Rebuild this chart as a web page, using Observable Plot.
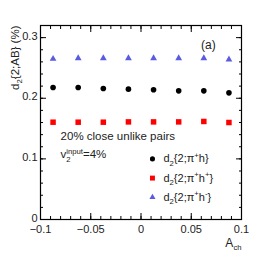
<!DOCTYPE html>
<html><head><meta charset="utf-8">
<script src="https://cdn.jsdelivr.net/npm/d3@7"></script>
<script src="https://cdn.jsdelivr.net/npm/@observablehq/plot@0.6"></script>
<style>html,body{margin:0;padding:0;background:#fff;}</style>
</head><body><div id="chart"></div>
<script>
// Data
const xVals = [-0.0875, -0.0625, -0.0375, -0.0125, 0.0125, 0.0375, 0.0625, 0.0875];
const circleVals = [0.2178, 0.2178, 0.2162, 0.215, 0.2139, 0.2122, 0.2122, 0.2089];
const squareVals = [0.1605, 0.1605, 0.1605, 0.161, 0.161, 0.161, 0.1617, 0.160];
const triangleVals = [0.265, 0.266, 0.266, 0.266, 0.266, 0.266, 0.266, 0.264];
const seriesNames = ["d_{2}{2;π^{+}h}", "d_{2}{2;π^{+}h^{+}}", "d_{2}{2;π^{+}h^{-}}"];
const xMajor = [-0.1, -0.05, 0, 0.05, 0.1];
const xMinor = d3.range(-10, 11).map(i => i / 100);
const yMajor = [0, 0.1, 0.2, 0.3];
const yMinor = d3.range(0, 17).map(i => i * 0.02);
const xLabels = ["−0.1", "−0.05", "0", "0.05", "0.1"];
const yLabels = ["0", "0.1", "0.2", "0.3"];
const yTitle = "d_{2}{2;AB} (%)";
const xTitle = "A_{ch}";
const note1 = "20% close unlike pairs";
const note2 = "v_{2}^{input}=4%";
const panel = "(a)";

const colors = ["#000000", "#ff0000", "#5b5be0"];
const symbols = ["circle", "square", "triangle"];
const radii = [2.8, 3.1, 2.5];

const rows = [];
[circleVals, squareVals, triangleVals].forEach((vals, s) =>
  vals.forEach((v, i) => rows.push({x: xVals[i], y: v, s})));

const legend = seriesNames.map((name, s) => ({name, s, x: 0.0114, y: [0.1, 0.0683, 0.0367][s]}));

const fmtX = d => xLabels[xMajor.findIndex(v => Math.abs(v - d) < 1e-9)];
const fmtY = d => yLabels[yMajor.findIndex(v => Math.abs(v - d) < 1e-9)];
const blank = () => "";

const marks = [
  Plot.frame({stroke: "black", strokeWidth: 1.2}),
  // inward ticks, all four sides
  ...["bottom", "top"].flatMap(anchor => [
    Plot.axisX(xMinor, {anchor, tickSize: -3, tickFormat: blank, label: null, stroke: "black"}),
    Plot.axisX(xMajor, {anchor, tickSize: -6, tickFormat: blank, label: null, stroke: "black"})
  ]),
  ...["left", "right"].flatMap(anchor => [
    Plot.axisY(yMinor, {anchor, tickSize: -3, tickFormat: blank, label: null, stroke: "black"}),
    Plot.axisY(yMajor, {anchor, tickSize: -6, tickFormat: blank, label: null, stroke: "black"})
  ]),
  Plot.axisX(xMajor, {anchor: "bottom", tickSize: 0, tickPadding: 6, tickFormat: fmtX, label: null, fill: "#222", fontSize: 11}),
  Plot.axisY(yMajor, {anchor: "left", tickSize: 0, tickPadding: 3, tickFormat: fmtY, label: null, fill: "#222", fontSize: 11, dy: -1.5}),
  // data
  ...[0, 1, 2].map(s => Plot.dot(rows.filter(r => r.s === s), {
    x: "x", y: "y", symbol: () => symbols[s], r: radii[s], fill: colors[s], stroke: "none"
  })),
  // legend
  ...[0, 1, 2].map(s => Plot.dot(legend.filter(r => r.s === s), {
    x: "x", y: "y", symbol: () => symbols[s], r: radii[s] * 0.9, fill: colors[s], stroke: "none"
  })),
  Plot.text(legend, {x: "x", y: "y", text: "name", dx: 11, textAnchor: "start", fontSize: 11, fill: "#222"}),
  Plot.text([note1], {x: -0.080, y: 0.138, textAnchor: "start", fontSize: 11.5, fill: "#222"}),
  Plot.text([note2], {x: -0.080, y: 0.107, textAnchor: "start", fontSize: 11.5, fill: "#222"}),
  Plot.text([panel], {x: 0.067, y: 0.287, textAnchor: "middle", fontSize: 12, fill: "#222"}),
  Plot.text([yTitle], {frameAnchor: "top-left", rotate: -90, dx: -30, dy: 0, textAnchor: "end", fontSize: 11.5, fill: "#222"}),
  Plot.text([xTitle], {frameAnchor: "bottom-right", dx: 0, dy: 27, textAnchor: "end", fontSize: 12, fill: "#222"})
];

const chart = Plot.plot({
  width: 268, height: 258,
  marginLeft: 40, marginRight: 27, marginTop: 25, marginBottom: 39,
  x: {domain: [-0.1, 0.1]},
  y: {domain: [0, 0.32]},
  style: {fontFamily: "'Liberation Sans', Arial, Helvetica, sans-serif", fontSize: "11px", background: "white", overflow: "visible"},
  marks
});

// Convert simple _{..} / ^{..} markup into tspans
function richify(textEl) {
  const src = textEl.textContent;
  if (!/[_^]\{/.test(src)) return;
  const fs = parseFloat(textEl.getAttribute("font-size")) || 11;
  const segs = [];
  const re = /([_^])\{([^}]*)\}|([^_^]+|[_^])/g;
  let m;
  while ((m = re.exec(src))) {
    if (m[1]) segs.push({mode: m[1] === "_" ? "sub" : "sup", t: m[2]});
    else segs.push({mode: "normal", t: m[3]});
  }
  while (textEl.firstChild) textEl.removeChild(textEl.firstChild);
  const ns = "http://www.w3.org/2000/svg";
  let cur = 0; // current baseline shift (px, positive down)
  let prev = null;
  segs.forEach(seg => {
    const ts = document.createElementNS(ns, "tspan");
    const target = seg.mode === "sub" ? fs * 0.3 : seg.mode === "sup" ? -fs * 0.42 : 0;
    const dy = target - cur;
    if (dy) ts.setAttribute("dy", dy);
    cur = target;
    if (seg.mode !== "normal") ts.setAttribute("font-size", fs * 0.7);
    if (seg.mode === "sup" && prev && prev.mode === "sub") {
      ts.setAttribute("dx", -fs * 0.7 * 0.56 * prev.t.length);
    }
    ts.textContent = seg.t;
    textEl.appendChild(ts);
    prev = seg;
  });
}
chart.querySelectorAll("text").forEach(richify);

document.getElementById("chart").appendChild(chart);
</script></body></html>
